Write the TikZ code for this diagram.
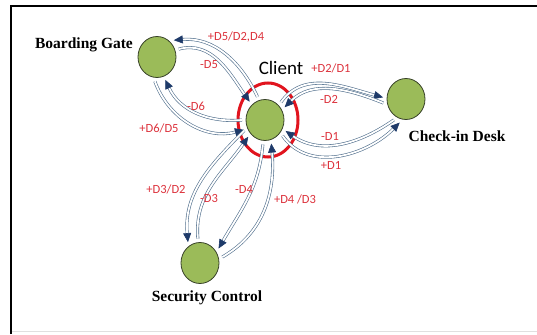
\documentclass[tikz,border=0pt]{standalone}
\usepackage{fontspec}
\setmainfont{Liberation Serif}
\newfontfamily\labelfont{Carlito}
\usetikzlibrary{arrows.meta,shapes.geometric}
\definecolor{nodegreen}{RGB}{155,187,89}
\definecolor{nodeedge}{RGB}{55,65,40}
\definecolor{arrline}{RGB}{80,110,140}
\definecolor{arrhead}{RGB}{30,58,105}
\definecolor{labelred}{RGB}{220,50,60}
\definecolor{ringred}{RGB}{225,20,30}

\begin{document}
\begin{tikzpicture}[x=1pt,y=1pt,
  place/.style={ellipse,draw=nodeedge,line width=0.8pt,fill=nodegreen,minimum width=38pt,minimum height=41pt,inner sep=0pt,outer sep=4pt},
  flow/.style={draw=arrline,line width=0.6pt,double=white,double distance=1.8pt,-{Triangle[length=9pt,width=8pt,color=arrhead]}},
  tag/.style={text=labelred,font=\labelfont\fontsize{12.5}{14}\selectfont,inner sep=0pt},
  title/.style={font=\bfseries\fontsize{15.5}{17}\selectfont,inner sep=0pt}]
  \useasboundingbox (0,0) rectangle (537,-334);
  % frame
  \draw[black!12,line width=1pt] (11,-331) -- (537,-331);
  \draw[line width=2pt] (11,-334) -- (11,-6) -- (537,-6);
  % places
  \node[place] (gate) at (157,-57) {};
  \node[place] (client) at (265,-120) {};
  \node[place] (desk) at (406,-99) {};
  \node[place] (security) at (200,-263) {};
  \draw[ringred,line width=3pt] (268,-120) ellipse [x radius=30,y radius=37];
  % names
  \node[title] (gatename) at (84,-45) {Boarding Gate};
  \node[font=\labelfont\fontsize{19}{21}\selectfont,inner sep=0pt] (clientname) at (281,-68) {Client};
  \node[title] (deskname) at (457,-136) {Check-in Desk};
  \node[title] (securityname) at (207,-298) {Security Control};
  % boarding gate
  \draw[flow] (client.108) to[out=115,in=5] (gate.45);
  \draw[flow] (gate.20) to[out=15,in=125] (client.130);
  \draw[flow] (gate.265) to[out=290,in=195] (client.205);
  \draw[flow] (client.180) to[out=185,in=295] (gate.290);
  % check-in desk
  \draw[flow] (client.48) to[out=55,in=165] (desk.176);
  \draw[flow] (desk.190) to[out=158,in=45] (client.33);
  \draw[flow] (desk.240) to[out=215,in=325] (client.332);
  \draw[flow] (client.318) to[out=305,in=225] (desk.255);
  % security control
  \draw[flow] (client.207) to[out=225,in=95] (security.120);
  \draw[flow] (security.95) to[out=95,in=235] (client.225);
  \draw[flow] (client.265) to[out=265,in=60] (security.38);
  \draw[flow] (security.15) to[out=30,in=275] (client.285);
  % labels
  \node[tag] (t1) at (236,-37) {+D5/D2,D4};
  \node[tag] (t2) at (209,-65) {-D5};
  \node[tag] (t3) at (196,-106) {-D6};
  \node[tag] (t4) at (159,-128) {+D6/D5};
  \node[tag] (t5) at (331,-68) {+D2/D1};
  \node[tag] (t6) at (329,-99) {-D2};
  \node[tag] (t7) at (330,-136) {-D1};
  \node[tag] (t8) at (331,-165) {+D1};
  \node[tag] (t9) at (166,-189) {+D3/D2};
  \node[tag] (t10) at (209,-198) {-D3};
  \node[tag] (t11) at (244,-189) {-D4};
  \node[tag] (t12) at (295,-199) {+D4 /D3};
\end{tikzpicture}
\end{document}
